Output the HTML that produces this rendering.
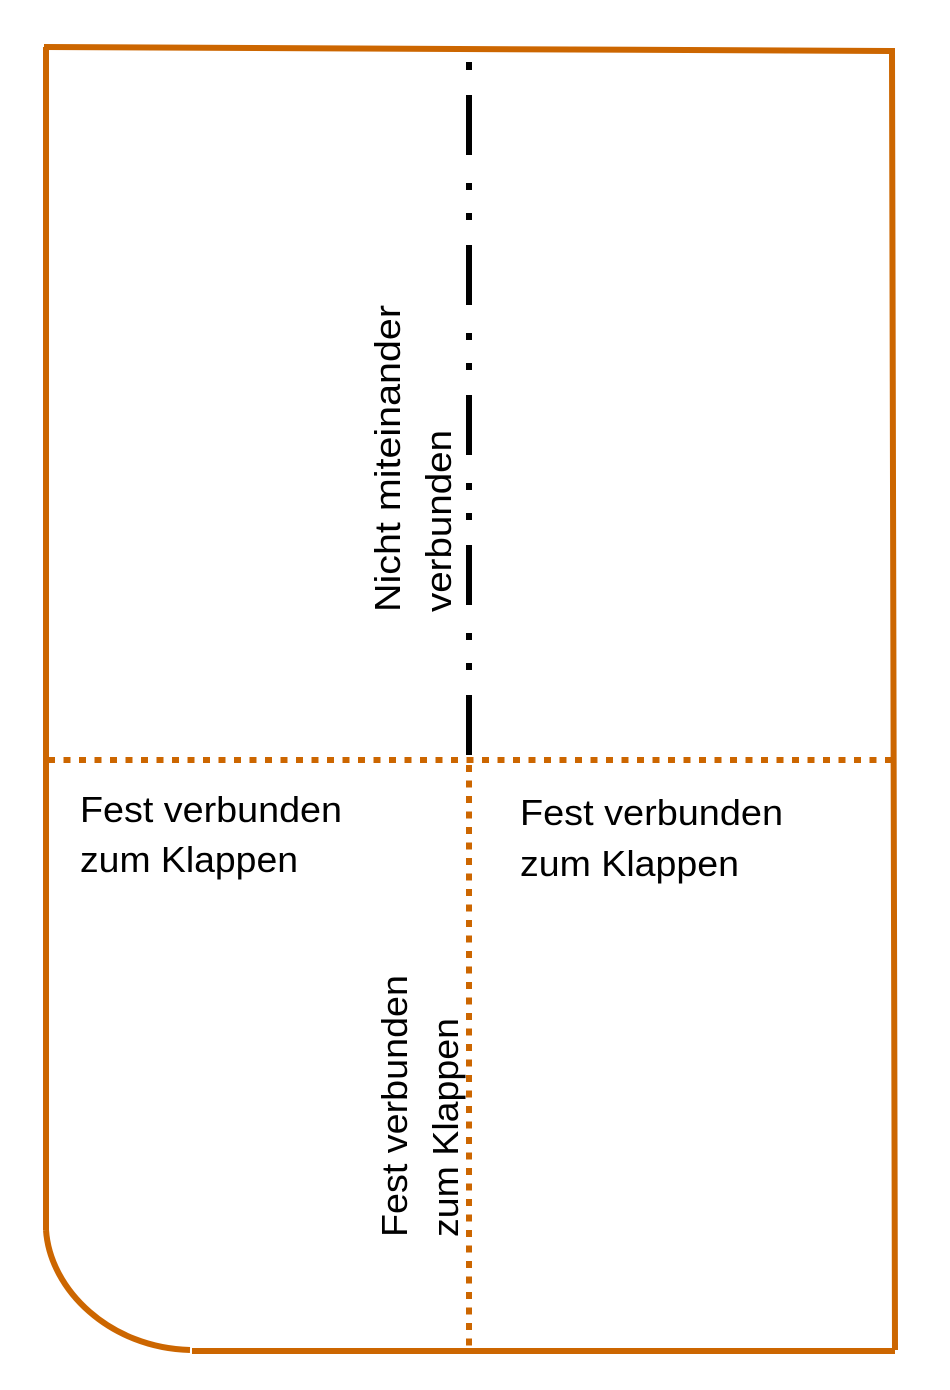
<!DOCTYPE html>
<html><head><meta charset="utf-8"><style>
html,body{margin:0;padding:0;background:#fff;}
svg{display:block;}
text{font-family:"Liberation Sans",sans-serif;font-size:36px;fill:#000;}
</style></head><body>
<svg width="950" height="1390" viewBox="0 0 950 1390" xmlns="http://www.w3.org/2000/svg">
<g stroke="#CC6600" stroke-width="6" fill="none">
<path d="M44,47 L892,51 L895,1350"/>
<path d="M46,47 L46,1230"/>
<path d="M46,1230 C50,1290 110,1348 190,1350"/>
<path d="M192,1351 L895,1351"/>
<path d="M48,760 L892,760" stroke-dasharray="7,8.5"/>
<path d="M469,765 L469,1348" stroke-dasharray="7,8.5"/>
</g>
<g stroke="#000" stroke-width="6" fill="none">
<path d="M469,62 L469,70"/>
<path d="M469,95 L469,757" stroke-dasharray="60,28,7,23,7,25"/>
</g>
<text x="80" y="822" textLength="262" lengthAdjust="spacingAndGlyphs">Fest verbunden</text>
<text x="80" y="872" textLength="218" lengthAdjust="spacingAndGlyphs">zum Klappen</text>
<text x="520" y="825" textLength="263" lengthAdjust="spacingAndGlyphs">Fest verbunden</text>
<text x="520" y="876" textLength="219" lengthAdjust="spacingAndGlyphs">zum Klappen</text>
<g transform="translate(400,612) rotate(-90)">
<text x="0" y="0" textLength="307" lengthAdjust="spacingAndGlyphs">Nicht miteinander</text>
<text x="0" y="51" textLength="182" lengthAdjust="spacingAndGlyphs">verbunden</text>
</g>
<g transform="translate(407,1237) rotate(-90)">
<text x="0" y="0" textLength="262" lengthAdjust="spacingAndGlyphs">Fest verbunden</text>
<text x="0" y="51" textLength="219" lengthAdjust="spacingAndGlyphs">zum Klappen</text>
</g>
</svg>
</body></html>
